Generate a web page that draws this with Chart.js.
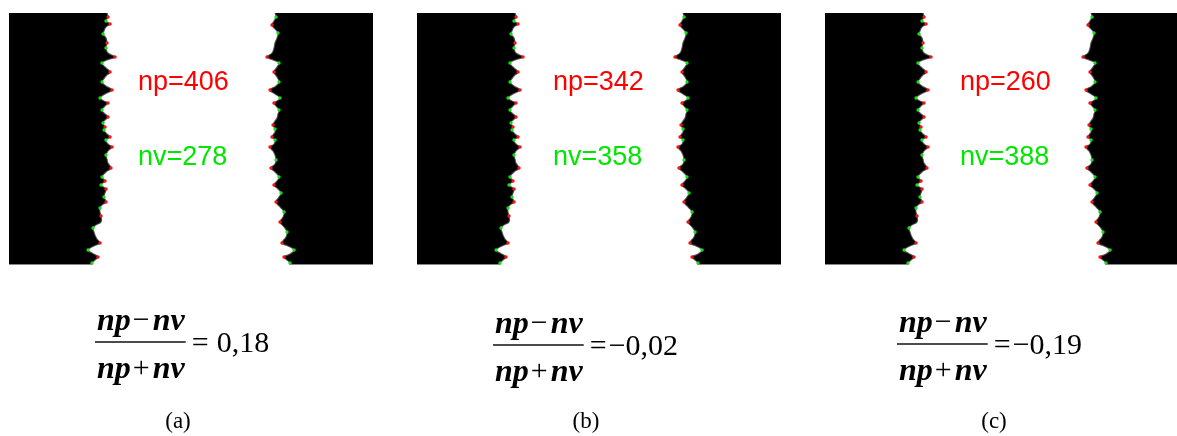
<!DOCTYPE html>
<html>
<head>
<meta charset="utf-8">
<script src="https://cdn.jsdelivr.net/npm/chart.js@4.4.1/dist/chart.umd.min.js"></script>
<style>
  body { margin: 0; width: 1177px; height: 436px; overflow: hidden; background: #fff; position: relative; }
  canvas { position: absolute; top: 0; }
</style>
</head>
<body>
<canvas id="panel-a" width="408" height="436" style="left:0px"></canvas>
<canvas id="panel-b" width="408" height="436" style="left:408px"></canvas>
<canvas id="panel-c" width="408" height="436" style="left:816px"></canvas>
<script>
// Counts and ratios printed on each panel
const panelIds = ["panel-a", "panel-b", "panel-c"];
const captions = ["(a)", "(b)", "(c)"];
const peakCounts = [406, 342, 260];   // np
const valleyCounts = [278, 358, 388]; // nv
const ratioLabels = ["0,18", "\u22120,02", "\u22120,19"];

// Left edge of the white strip (row -> column, image pixels inside the panel)
const leftRows = [0, 4, 8, 11, 14, 18, 21, 25, 30, 35, 40, 44, 47, 50, 54, 59, 63, 67, 69, 73,
  77, 81, 85, 88, 90, 93, 97, 100, 104, 107, 110, 114, 117, 121, 124, 127, 131, 134, 138, 142,
  146, 150, 155, 159, 164, 168, 172, 176, 180, 184, 189, 192, 195, 199, 203, 209, 212, 215, 219,
  222, 226, 230, 233, 237, 240, 244, 247, 250, 252];
const leftX = [98, 99, 97, 101, 97, 95, 94, 97, 98, 97, 99, 106, 98, 93, 96, 101, 97, 94, 93, 97,
  103, 96, 91, 95, 99, 96, 93, 95, 99, 96, 94, 96, 95, 98, 101, 97, 99, 103, 99, 97,
  98, 99, 102, 97, 93, 96, 92, 97, 96, 95, 97, 93, 91, 91, 92, 92, 87, 84, 85,
  86, 88, 91, 85, 79, 83, 89, 86, 83, 83];

// Right edge of the white strip
const rightRows = [0, 4, 8, 12, 16, 20, 25, 30, 35, 40, 44, 47, 50, 54, 59, 64, 69, 73, 77, 81,
  85, 88, 90, 93, 97, 101, 105, 108, 112, 116, 119, 124, 127, 131, 134, 138, 142, 147, 151, 155,
  159, 164, 168, 172, 176, 180, 184, 189, 194, 199, 204, 209, 214, 219, 224, 230, 233, 237, 241,
  244, 247, 250, 252];
const rightX = [266, 267, 265, 263, 266, 269, 268, 266, 265, 263, 258, 264, 270, 268, 265, 268, 270, 267, 261, 266,
  271, 268, 265, 267, 270, 269, 268, 266, 264, 266, 266, 263, 266, 265, 261, 264, 266, 267, 266, 262,
  266, 270, 268, 265, 269, 272, 270, 267, 271, 275, 274, 271, 275, 278, 277, 273, 279, 285, 281,
  275, 278, 281, 281];

const countX = [138, 145, 144];
const formulaX = [95, 85, 81];
const barY = [342, 345, 344];

// tip colour: red where the edge pokes into the white, green in the notches
function tipColor(xs, i, intoWhite) {
  if (i === 0 || i === xs.length - 1) return "rgba(0,0,0,0)";
  const a = xs[i - 1], b = xs[i], c = xs[i + 1];
  const peak = intoWhite > 0 ? (b > a && b >= c) : (b < a && b <= c);
  const notch = intoWhite > 0 ? (b < a && b <= c) : (b > a && b >= c);
  if (peak) return "#ff1010";
  if (notch) return "#10e010";
  return "rgba(0,0,0,0)";
}

function drawFormula(ctx, i) {
  const boldIt = 'italic bold 32px "Liberation Serif", "Times New Roman", serif';
  const reg = '30px "Liberation Serif", "Times New Roman", serif';
  const x0 = formulaX[i];
  const yb = barY[i];
  ctx.fillStyle = "#000";
  ctx.textBaseline = "alphabetic";

  const row = (op, baseline) => {
    let x = x0 + 2;
    ctx.font = boldIt;
    ctx.fillText("np", x, baseline);
    x += ctx.measureText("np").width + 2;
    ctx.font = reg;
    ctx.fillText(op, x, baseline - 1);
    x += ctx.measureText(op).width + 3;
    ctx.font = boldIt;
    ctx.fillText("nv", x, baseline);
    x += ctx.measureText("nv").width;
    return x;
  };
  const endTop = row("\u2212", yb - 12);
  const endBot = row("+", yb + 36);
  const barEnd = Math.max(endTop, endBot) + 1;
  ctx.fillRect(x0, yb - 0.7, barEnd - x0, 1.4);

  ctx.font = reg;
  ctx.fillText("=", barEnd + 6, yb + 10);
  const eqW = ctx.measureText("=").width;
  const gap = ratioLabels[i].startsWith("\u2212") ? 2 : 8;
  ctx.fillText(ratioLabels[i], barEnd + 6 + eqW + gap, yb + 10);
}

const panelText = {
  id: "panelText",
  afterDraw(chart, args, opts) {
    const ctx = chart.ctx;
    const i = opts.index;
    const area = chart.chartArea;
    const xs = chart.scales.x;
    ctx.save();
    // thin grey frame line under the black parts of the image
    ctx.fillStyle = "rgba(150,150,150,0.9)";
    const lx = xs.getPixelForValue(leftX[leftX.length - 1]);
    const rx = xs.getPixelForValue(rightX[rightX.length - 1]);
    ctx.fillRect(area.left, area.bottom - 1, lx - area.left, 1);
    ctx.fillRect(rx, area.bottom - 1, area.right - rx, 1);

    ctx.font = '27px "Liberation Sans", Arial, sans-serif';
    ctx.textBaseline = "alphabetic";
    ctx.fillStyle = "#ff0000";
    ctx.fillText("np=" + peakCounts[i], countX[i], 90);
    ctx.fillStyle = "#00e600";
    ctx.fillText("nv=" + valleyCounts[i], countX[i], 165);

    drawFormula(ctx, i);

    ctx.fillStyle = "#000";
    ctx.font = '23px "Liberation Serif", "Times New Roman", serif';
    ctx.textAlign = "center";
    ctx.fillText(captions[i], 178, 428);
    ctx.restore();
  }
};

// side > 0: black region lies left of the edge, side < 0: right of it
const edgeDataset = (rows, xs, side) => ({
  data: rows.map((y, k) => ({ x: xs[k], y: y })),
  fill: { value: side > 0 ? 0 : 364 },
  backgroundColor: "#000",
  borderColor: "rgba(70,70,70,0.8)",
  borderWidth: 1.2,
  tension: 0.45,
  pointRadius: (ctx) => tipColor(xs, ctx.dataIndex, side) === "rgba(0,0,0,0)" ? 0 : 1.7,
  pointBackgroundColor: (ctx) => tipColor(xs, ctx.dataIndex, side),
  pointBorderWidth: 0
});

panelIds.forEach((id, i) => {
  new Chart(document.getElementById(id), {
    type: "line",
    data: {
      datasets: [
        edgeDataset(leftRows, leftX, 1),
        edgeDataset(rightRows, rightX, -1)
      ]
    },
    options: {
      responsive: false,
      animation: false,
      indexAxis: "y",
      layout: { padding: { left: 9, top: 13, right: 35, bottom: 171 } },
      scales: {
        x: { type: "linear", min: 0, max: 364, display: false },
        y: { type: "linear", min: 0, max: 252, reverse: true, display: false }
      },
      plugins: {
        legend: { display: false },
        tooltip: { enabled: false },
        panelText: { index: i }
      }
    },
    plugins: [panelText]
  });
});
</script>
</body>
</html>
